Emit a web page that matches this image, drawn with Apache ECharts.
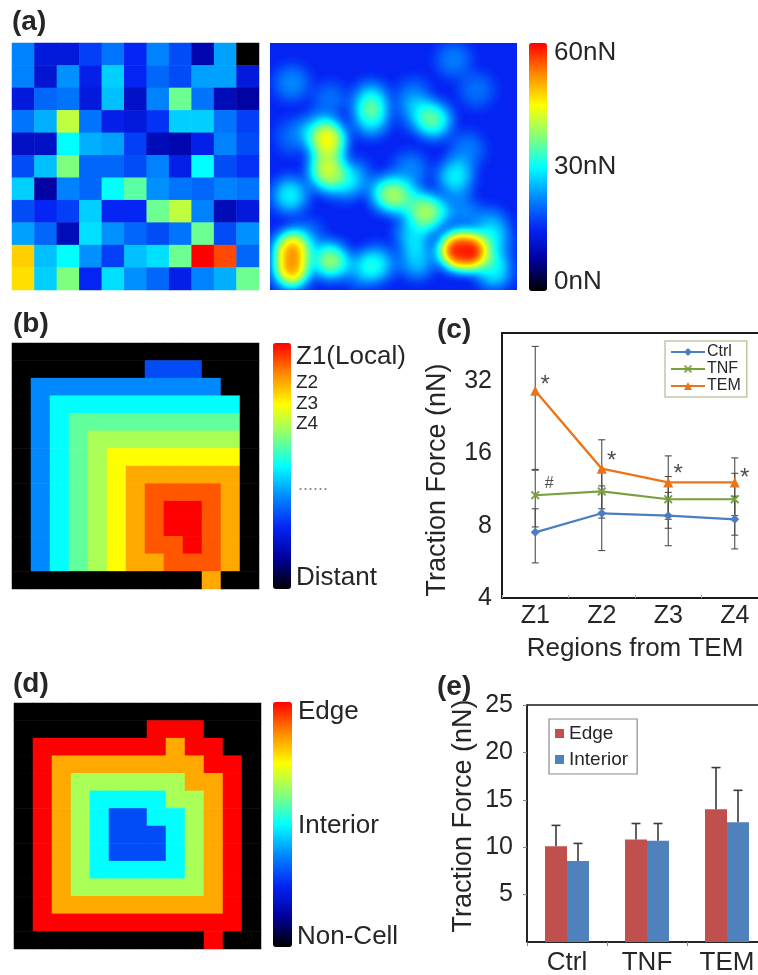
<!DOCTYPE html>
<html><head><meta charset="utf-8">
<script src="https://cdn.jsdelivr.net/npm/echarts@6/dist/echarts.min.js"></script>
<style>html,body{margin:0;padding:0;background:#fff}#main{width:758px;height:975px}</style>
</head><body><div id="main"></div>
<script>
// ================= DATA =================
// colour scale shared by the colour bars (value 0 -> black, max -> red)
const PALETTE = ['#000000','#00009c','#0424f4','#0088ff','#00ffff','#88ff77','#ffff00','#ff8800','#ff0000'];

// (a) left: traction force per grid cell (nN), rows top -> bottom
const forceGrid = [
  [22,13,13,17,21,15,22,18, 9,24, 0],
  [22,12,23,14,27,15,20,18,24,24,13],
  [13,20,21,13,26,11,22,36,21,10, 8],
  [21,25,41,21,14,13,16,27,27,21,17],
  [11,11,30,25,24,17,10, 9,14,22,18],
  [18,26,37,20,20,18,22,14,30,18,16],
  [27, 8,22,20,30,35,23,21,20,22,21],
  [18,15,17,27,15,15,36,41,22,10,13],
  [24,20,10,28,23,20,18,21,36,18,23],
  [48,26,30,23,17,26,28,36,60,56,20],
  [47,27,37,15,28,23,20,14,22,25,36]
];
// (a) right: force hot spots of the smoothed map [column, row (from top), nN]
const smoothSpots = [
  [0.97,1.79,23],[2.68,2.53,21],[4.5,2.55,30],[4.5,3.35,30],[2.6,4.25,42],
  [2.53,5.81,38],[0.89,6.78,30],[5.28,6.71,37],[7.06,7.53,39],[7.28,3.43,35],
  [8.25,5.96,30],[8.18,0.75,22],[8.3,9.24,58],[8.95,9.28,60],
  [0.97,9.2,50],[0.97,10.1,50],[2.68,9.69,39],[4.76,9.84,29],[9.96,10.14,30],
  [3.72,5.96,24],[6.39,2.38,22],[6.39,8.5,28],[9.2,2.09,21],[9.96,8.35,22],
  [2.53,5.07,30],[6.47,3.13,22],[1.04,4.17,21],[6.09,7.0,30],[9.66,8.05,21],
  [2.05,3.87,25],[3.27,6.26,23],[4.01,10.1,24],[6.54,9.69,27],[9.96,9.09,24],
  [1.63,8.64,22],[8.47,7.45,23],[8.77,4.77,22],[6.24,5.66,23]
];
const smoothSize = 11;

// (b) zone map: 0 outside, 1 most distant ... 9 = Z1 (local)
const zoneLevelsB = [0, 0.3, 0.375, 0.5, 0.59, 0.66, 0.75, 0.84, 0.92, 1];
const zoneGridB = [
  [0,0,0,0,0,0,0,0,0,0,0,0,0],
  [0,0,0,0,0,0,0,1,1,1,0,0,0],
  [0,2,2,2,2,2,2,2,2,2,2,0,0],
  [0,2,3,3,3,3,3,3,3,3,3,3,0],
  [0,2,3,4,4,4,4,4,4,4,4,4,0],
  [0,2,3,4,5,5,5,5,5,5,5,5,0],
  [0,2,3,4,5,6,6,6,6,6,6,6,0],
  [0,2,3,4,5,6,7,7,7,7,7,7,0],
  [0,2,3,4,5,6,7,8,8,8,8,7,0],
  [0,2,3,4,5,6,7,8,9,9,8,7,0],
  [0,2,3,4,5,6,7,8,9,9,8,7,0],
  [0,2,3,4,5,6,7,8,8,9,8,7,0],
  [0,2,3,4,5,6,7,7,8,8,8,7,0],
  [0,0,0,0,0,0,0,0,0,0,7,0,0]
];
// (d) edge/interior map: 0 non-cell, 1 interior ... 5 edge
const zoneLevelsD = [0, 0.3, 0.5, 0.66, 0.84, 1];
const zoneGridD = [
  [0,0,0,0,0,0,0,0,0,0,0,0,0],
  [0,0,0,0,0,0,0,5,5,5,0,0,0],
  [0,5,5,5,5,5,5,5,4,5,5,0,0],
  [0,5,4,4,4,4,4,4,4,4,5,5,0],
  [0,5,4,3,3,3,3,3,3,4,4,5,0],
  [0,5,4,3,2,2,2,2,3,3,4,5,0],
  [0,5,4,3,2,1,1,2,2,3,4,5,0],
  [0,5,4,3,2,1,1,1,2,3,4,5,0],
  [0,5,4,3,2,1,1,1,2,3,4,5,0],
  [0,5,4,3,2,2,2,2,2,3,4,5,0],
  [0,5,4,3,3,3,3,3,3,3,4,5,0],
  [0,5,4,4,4,4,4,4,4,4,4,5,0],
  [0,5,5,5,5,5,5,5,5,5,5,5,0],
  [0,0,0,0,0,0,0,0,0,0,5,0,0]
];

// (c) traction force by region (nN)
const regions = ['Z1','Z2','Z3','Z4'];
const ctrlMean = [7.5, 9.0, 8.8, 8.5];
const ctrlLow  = [5.6, 6.3, 6.6, 6.4];
const ctrlHigh = [9.4, 11.7, 11.0, 10.6];
const tnfMean  = [10.7, 11.1, 10.3, 10.3];
const tnfLow   = [7.9, 8.6, 7.8, 7.3];
const tnfHigh  = [13.6, 13.6, 12.8, 13.2];
const temMean  = [29.1, 13.8, 12.1, 12.1];
const temLow   = [13.7, 9.4, 8.5, 8.8];
const temHigh  = [44.5, 18.2, 15.6, 15.3];
const sigText  = ['*','*','*','*','#'];
const sigRegion = [0, 1, 2, 3, 0];
const sigLevel = [30.7, 14.8, 13.07, 12.58, 11.93];
const cYTicks = [4, 8, 16, 32];

// (e) edge vs interior
const groups = ['Ctrl','TNF','TEM'];
const edgeMean = [10.1, 10.8, 14.0];
const edgeTop  = [12.3, 12.5, 18.4];
const interiorMean = [8.55, 10.67, 12.64];
const interiorTop  = [10.4, 12.5, 16.0];

// ================= BUILD =================
const FF = 'Liberation Sans, Arial, Helvetica, sans-serif';
const TXT = '#262626';

function gridCells(grid, map) {
  const out = [];
  grid.forEach((row, r) => row.forEach((v, c) => out.push([c, r, map ? map[v] : v])));
  return out;
}
const forceCells = gridCells(forceGrid);
const zoneCellsB = gridCells(zoneGridB, zoneLevelsB);
const zoneCellsD = gridCells(zoneGridD, zoneLevelsD);
const smoothData = smoothSpots.map(p => [p[0], smoothSize - p[1], p[2]]);

echarts.registerMap('tfmSquare', {
  type: 'FeatureCollection',
  features: [{type: 'Feature', properties: {name: 'tfm'},
    geometry: {type: 'Polygon', coordinates: [[[0,0],[smoothSize,0],[smoothSize,smoothSize],[0,smoothSize],[0,0]]]}}]
});

const catAxis = (gi, n, inv) => ({type: 'category', gridIndex: gi, data: Array.from({length: n}, (_, i) => String(i)), show: false, inverse: !!inv});

const errC = [];
[[ctrlLow, ctrlHigh], [tnfLow, tnfHigh], [temLow, temHigh]].forEach(([lo, hi]) => {
  lo.forEach((v, i) => errC.push([i, v, hi[i]]));
});

function renderErrC(params, api) {
  const i = api.value(0);
  const a = api.coord([i, api.value(1)]);
  const b = api.coord([i, api.value(2)]);
  const w = 3.5;
  const st = {stroke: '#4d4d4d', lineWidth: 1.1};
  return {type: 'group', children: [
    {type: 'line', shape: {x1: a[0], y1: a[1], x2: b[0], y2: b[1]}, style: st},
    {type: 'line', shape: {x1: a[0]-w, y1: a[1], x2: a[0]+w, y2: a[1]}, style: st},
    {type: 'line', shape: {x1: b[0]-w, y1: b[1], x2: b[0]+w, y2: b[1]}, style: st}
  ]};
}
const BAR_W = 22;
function makeErrE(side) {
  return function (params, api) {
    const i = api.value(0);
    const a = api.coord([i, api.value(1)]);
    const b = api.coord([i, api.value(2)]);
    const x = a[0] + side * BAR_W / 2;
    const w = 4.5;
    const st = {stroke: '#3a3a3a', lineWidth: 1.6};
    return {type: 'group', children: [
      {type: 'line', shape: {x1: x, y1: a[1], x2: x, y2: b[1]}, style: st},
      {type: 'line', shape: {x1: x-w, y1: b[1], x2: x+w, y2: b[1]}, style: st}
    ]};
  };
}

const sigData = sigText.map((t, k) => ({
  value: [sigRegion[k], sigLevel[k]],
  label: {formatter: t, fontSize: t === '*' ? 24 : 16, offset: [t === '*' ? 10 : 14, 0]}
}));

function txt(text, x, y, size, opts) {
  return Object.assign({type: 'text', x: x, y: y, silent: true,
    style: {text: text, font: (opts && opts.bold ? 'bold ' : '') + size + 'px ' + FF, fill: (opts && opts.fill) || TXT,
      verticalAlign: (opts && opts.va) || 'middle', align: 'left'}});
}

const option = {
  backgroundColor: '#ffffff',
  animation: false,
  textStyle: {fontFamily: FF},
  grid: [
    {left: 12, top: 43, width: 247, height: 247, outerBoundsMode: 'none'},
    {left: 12, top: 343, width: 247, height: 246, outerBoundsMode: 'none'},
    {left: 14, top: 703, width: 247, height: 246, outerBoundsMode: 'none'},
    {left: 502, top: 333, width: 266, height: 265, show: true, borderColor: '#1a1a1a', borderWidth: 2, outerBoundsMode: 'none'},
    {left: 527, top: 705, width: 240, height: 237, show: true, borderColor: '#1a1a1a', borderWidth: 1.5, outerBoundsMode: 'none'}
  ],
  geo: {
    map: 'tfmSquare', left: 270, top: 43, width: 247, height: 247, aspectScale: 1,
    roam: false, silent: true, label: {show: false},
    itemStyle: {areaColor: PALETTE[2], borderWidth: 0},
    emphasis: {disabled: true}, select: {disabled: true}
  },
  xAxis: [
    catAxis(0, 11), catAxis(1, 13), catAxis(2, 13),
    {type: 'category', gridIndex: 3, data: regions, boundaryGap: true,
      axisLine: {lineStyle: {color: '#1a1a1a', width: 2}},
      axisTick: {show: true, inside: true, length: 3, lineStyle: {color: '#aaa'}},
      axisLabel: {fontSize: 25, color: TXT, margin: 6},
      name: 'Regions from TEM', nameLocation: 'middle', nameGap: 38,
      nameTextStyle: {fontSize: 26, color: TXT}},
    {type: 'category', gridIndex: 4, data: groups,
      axisLine: {lineStyle: {color: '#1a1a1a', width: 1.5}},
      axisTick: {show: true, length: 4, lineStyle: {color: '#888'}},
      axisLabel: {fontSize: 26, color: TXT, margin: 8}}
  ],
  yAxis: [
    catAxis(0, 11, true), catAxis(1, 14, true), catAxis(2, 14, true),
    {type: 'log', logBase: 2, gridIndex: 3, min: 4, max: 50.6,
      axisLine: {show: true, lineStyle: {color: '#1a1a1a', width: 2}},
      axisTick: {show: false}, splitLine: {show: false},
      axisLabel: {fontSize: 25, color: TXT, margin: 10, showMaxLabel: false,
        formatter: v => (cYTicks.indexOf(Math.round(v)) >= 0 ? String(Math.round(v)) : '')},
      name: 'Traction Force (nN)', nameLocation: 'middle', nameGap: 51, nameRotate: 90,
      nameTextStyle: {fontSize: 27, color: TXT, padding: [0, 29, 0, 0]}},
    {type: 'value', gridIndex: 4, min: 0, max: 25, interval: 5,
      axisLine: {show: true, lineStyle: {color: '#1a1a1a', width: 1.5}},
      axisTick: {show: true, length: 4, lineStyle: {color: '#888'}}, splitLine: {show: false},
      axisLabel: {fontSize: 25, color: TXT, margin: 14, showMinLabel: false},
      name: 'Traction Force (nN)', nameLocation: 'middle', nameGap: 50, nameRotate: 90,
      nameTextStyle: {fontSize: 27, color: TXT, padding: [0, 0, 0, 15]}}
  ],
  visualMap: [
    {type: 'continuous', seriesIndex: 0, min: 0, max: 60, calculable: false, inRange: {color: PALETTE},
      left: 529, top: 43, itemWidth: 18, itemHeight: 248, padding: 0, hoverLink: false},
    {type: 'continuous', seriesIndex: 1, min: 15, max: 60, show: false, inRange: {color: PALETTE.slice(2)}},
    {type: 'continuous', seriesIndex: 2, min: 0, max: 1, calculable: false, inRange: {color: PALETTE},
      left: 273, top: 343, itemWidth: 18, itemHeight: 246, padding: 0, hoverLink: false},
    {type: 'continuous', seriesIndex: 3, min: 0, max: 1, calculable: false, inRange: {color: PALETTE},
      left: 273, top: 702, itemWidth: 19, itemHeight: 245, padding: 0, hoverLink: false}
  ],
  legend: [
    {data: ['Ctrl', 'TNF', 'TEM'], orient: 'vertical', left: 665, top: 341, itemWidth: 34, itemHeight: 10, itemGap: 1,
      textStyle: {fontSize: 16, color: TXT, padding: [0, 0, 0, -3]}, borderColor: '#c3c7a3', borderWidth: 1.5,
      padding: [3, 6, 3, 5], backgroundColor: '#fff'},
    {data: ['Edge', 'Interior'], orient: 'vertical', left: 549, top: 719, itemWidth: 9, itemHeight: 9, itemGap: 7, icon: 'rect',
      textStyle: {fontSize: 19, color: TXT}, borderColor: '#8a8a8a', borderWidth: 1.2,
      padding: [5, 9, 5, 6], backgroundColor: '#fff'}
  ],
  series: [
    {type: 'heatmap', xAxisIndex: 0, yAxisIndex: 0, data: forceCells, silent: true, progressive: 0, itemStyle: {borderWidth: 0}},
    {type: 'heatmap', coordinateSystem: 'geo', geoIndex: 0, data: smoothData, pointSize: 17, blurSize: 15,
      minOpacity: 1, maxOpacity: 1, silent: true},
    {type: 'heatmap', xAxisIndex: 1, yAxisIndex: 1, data: zoneCellsB, silent: true, progressive: 0, itemStyle: {borderWidth: 0}},
    {type: 'heatmap', xAxisIndex: 2, yAxisIndex: 2, data: zoneCellsD, silent: true, progressive: 0, itemStyle: {borderWidth: 0}},
    {type: 'custom', name: 'err', xAxisIndex: 3, yAxisIndex: 3, data: errC, renderItem: renderErrC,
      encode: {x: 0, y: [1, 2]}, silent: true, z: 3},
    {type: 'line', name: 'Ctrl', xAxisIndex: 3, yAxisIndex: 3, data: ctrlMean, color: '#4a7ec0',
      symbol: 'diamond', symbolSize: 9, lineStyle: {width: 2.2}, z: 4, silent: true},
    {type: 'line', name: 'TNF', xAxisIndex: 3, yAxisIndex: 3, data: tnfMean, color: '#77a03e',
      symbol: 'path://M0,1.5L1.5,0L5,3.5L8.5,0L10,1.5L6.5,5L10,8.5L8.5,10L5,6.5L1.5,10L0,8.5L3.5,5Z', symbolSize: 9,
      lineStyle: {width: 2.2}, z: 4, silent: true},
    {type: 'line', name: 'TEM', xAxisIndex: 3, yAxisIndex: 3, data: temMean, color: '#ec7418',
      symbol: 'triangle', symbolSize: 10, lineStyle: {width: 2.4}, z: 4, silent: true},
    {type: 'scatter', xAxisIndex: 3, yAxisIndex: 3, data: sigData, symbolSize: 0, silent: true, z: 5,
      label: {show: true, position: 'inside', color: '#222', fontFamily: FF}},
    {type: 'bar', name: 'Edge', xAxisIndex: 4, yAxisIndex: 4, data: edgeMean, color: '#c0504d',
      barWidth: BAR_W, barGap: '0%', silent: true},
    {type: 'bar', name: 'Interior', xAxisIndex: 4, yAxisIndex: 4, data: interiorMean, color: '#4f81bd',
      barWidth: BAR_W, barGap: '0%', silent: true},
    {type: 'custom', xAxisIndex: 4, yAxisIndex: 4, data: edgeMean.map((v, i) => [i, v, edgeTop[i]]),
      renderItem: makeErrE(-1), encode: {x: 0, y: [1, 2]}, silent: true, z: 3},
    {type: 'custom', xAxisIndex: 4, yAxisIndex: 4, data: interiorMean.map((v, i) => [i, v, interiorTop[i]]),
      renderItem: makeErrE(1), encode: {x: 0, y: [1, 2]}, silent: true, z: 3}
  ],
  graphic: [
    txt('(a)', 12, 8, 28, {bold: true, va: 'top'}),
    txt('(b)', 13, 310, 28, {bold: true, va: 'top'}),
    txt('(c)', 437, 316, 28, {bold: true, va: 'top'}),
    txt('(d)', 13, 670, 28, {bold: true, va: 'top'}),
    txt('(e)', 437, 673, 28, {bold: true, va: 'top'}),
    txt('60nN', 554, 53, 26),
    txt('30nN', 554, 167, 26),
    txt('0nN', 554, 282, 26),
    txt('Z1(Local)', 296, 357, 26),
    txt('Z2', 296, 383, 19),
    txt('Z3', 296, 404, 19),
    txt('Z4', 296, 424, 19),
    txt('......', 298, 485, 18, {fill: '#8a8a8a'}),
    txt('Distant', 296, 578, 26),
    txt('Edge', 298, 712, 26),
    txt('Interior', 298, 826, 26),
    txt('Non-Cell', 297, 937, 26)
  ]
};

const chart = echarts.init(document.getElementById('main'), null, {renderer: 'canvas', width: 758, height: 975});
chart.setOption(option);
</script></body></html>
